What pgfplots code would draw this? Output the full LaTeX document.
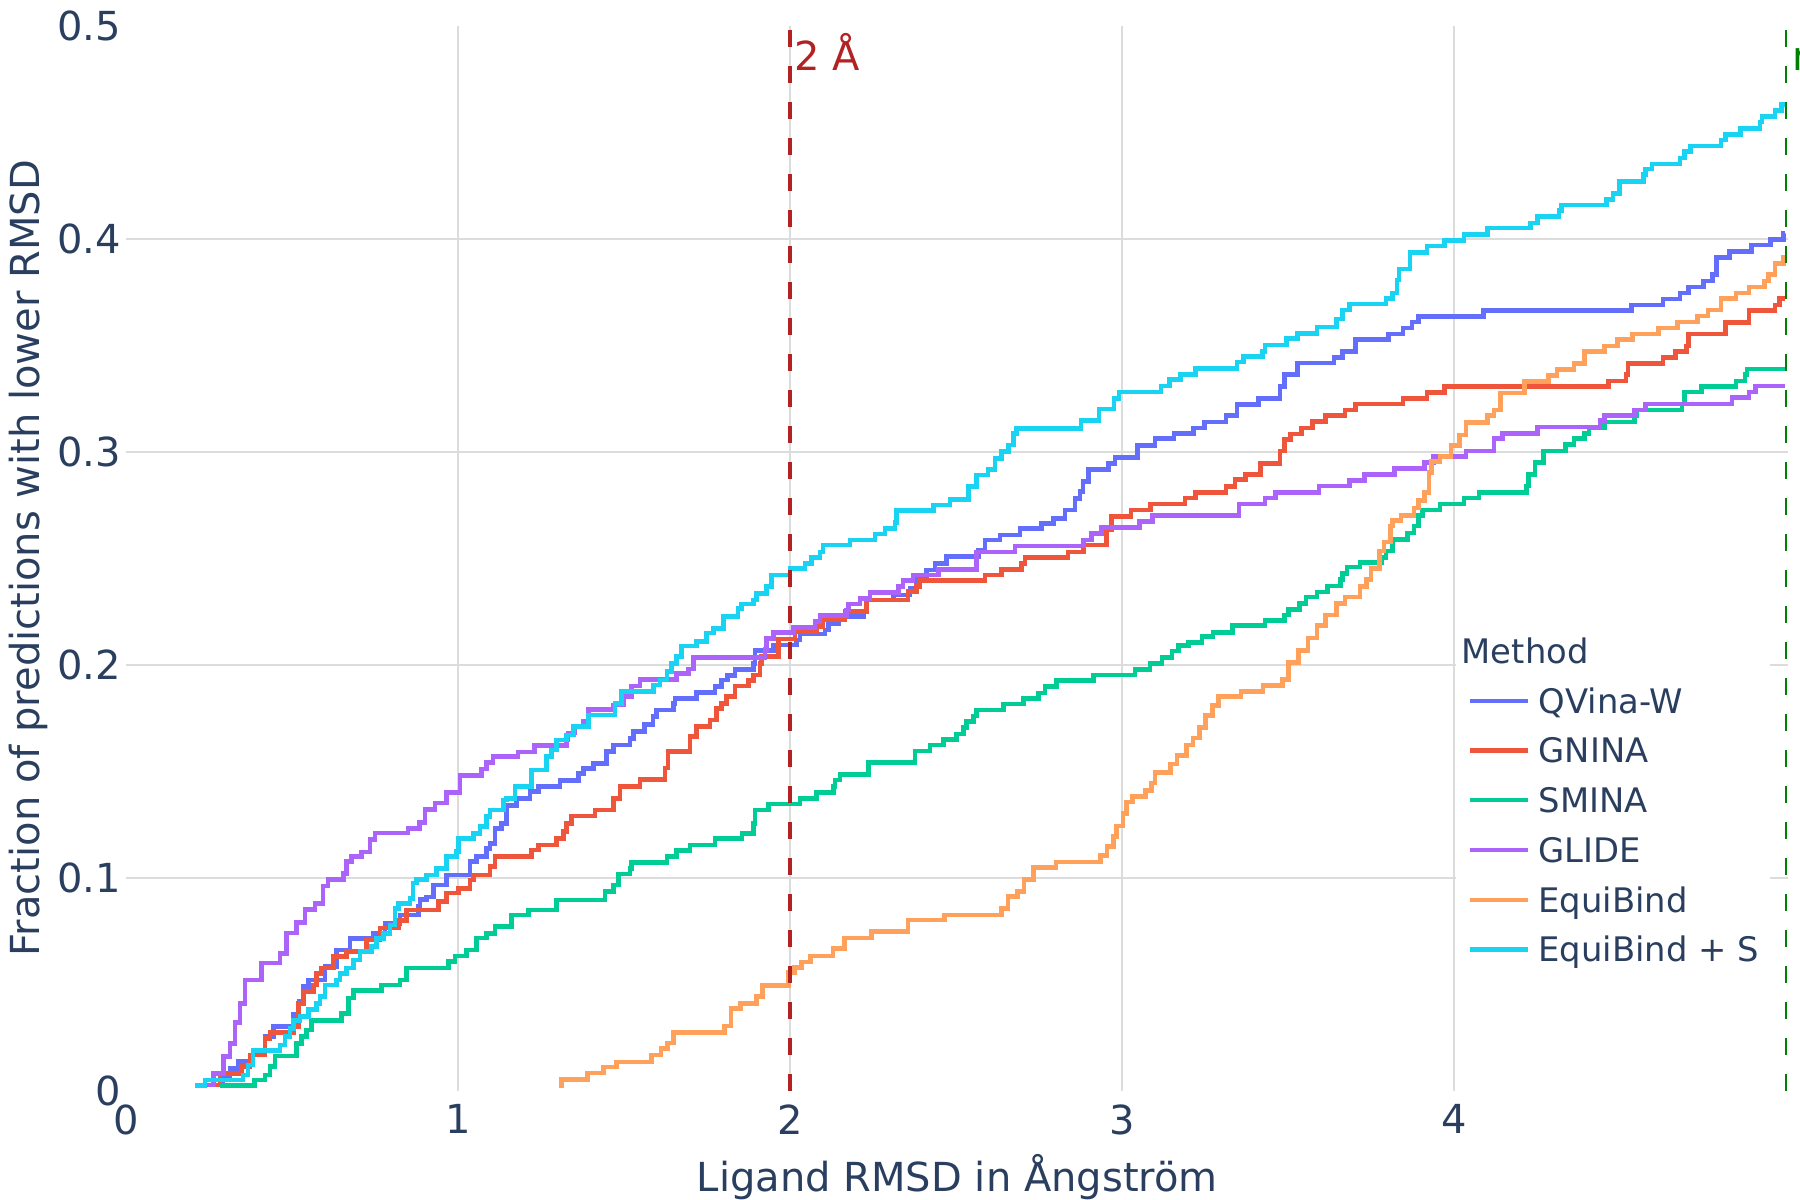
\documentclass[border=0pt]{standalone}
\usepackage{fontspec}
\setmainfont{DejaVu Sans}
\usepackage{pgfplots}
\pgfplotsset{compat=1.18}
\definecolor{txt}{HTML}{2A3F5F}
\definecolor{cQ}{HTML}{636EFA}
\definecolor{cG}{HTML}{EF553B}
\definecolor{cS}{HTML}{00CC96}
\definecolor{cL}{HTML}{AB63FA}
\definecolor{cE}{HTML}{FFA15A}
\definecolor{cES}{HTML}{19D3F3}
\definecolor{gridc}{HTML}{DCDCDC}
\definecolor{fb}{HTML}{B22222}
\definecolor{gr}{HTML}{008000}
\begin{document}
\begin{tikzpicture}
\begin{axis}[
  scale only axis,
  width=415.5pt, height=266.19pt,
  xmin=0, xmax=5.006, ymin=0, ymax=0.5,
  clip=false,
  axis line style={draw=none},
  major tick length=0pt,
  xtick={1,2,3,4}, extra x ticks={0},
  ytick={0.1,0.2,0.3,0.4}, extra y ticks={0,0.5},
  extra x tick style={grid=none}, extra y tick style={grid=none},
  grid=major,
  major grid style={draw=gridc, line width=0.5pt},
  /pgf/number format/assume math mode=true,
  tick label style={font=\fontsize{10}{12}\selectfont, text=txt},
  xticklabel style={anchor=north, inner sep=0pt, yshift=-3.35pt},
  yticklabel style={anchor=east, inner sep=0pt, xshift=-1.15pt,
     /pgf/number format/fixed, /pgf/number format/precision=1},
  legend style={
    at={(axis cs:4.006,0.21657)}, anchor=north west,
    draw=none, fill=white, inner xsep=2.75pt, inner ysep=2pt, outer sep=0pt,
    font=\fontsize{8.45}{10}\selectfont, text=txt,
    row sep=3.94pt, column sep=0pt,
    nodes={inner sep=0pt, text height=6.5pt, text depth=2pt, text=txt,
           font=\fontsize{8.45}{10}\selectfont},
    cells={anchor=base west},
  },
  legend image code/.code={\draw[#1, line width=1.1pt] (0pt,3.1pt) -- (14.6pt,3.1pt); \path (16.7pt,0pt);},
  every axis plot/.append style={line width=1.15pt, no marks, const plot},
]
\coordinate (SW) at (rel axis cs:0,0);
\coordinate (NE) at (rel axis cs:1,1);
\addlegendimage{empty legend}
\addlegendentry{\hspace*{-19.2pt}Method}

% QVina-W
\addplot[color=cQ] coordinates {
(0.252,0.0027) (0.29,0.006) (0.312,0.0105) (0.337,0.0136) (0.378,0.0168) (0.418,0.0254) (0.443,0.030) (0.503,0.0356) (0.52,0.042) (0.533,0.0489) (0.548,0.052) (0.599,0.0582) (0.633,0.066) (0.674,0.0715) (0.744,0.0739) (0.779,0.0786) (0.824,0.0825) (0.88,0.0864) (0.885,0.0896) (0.905,0.091) (0.925,0.0966) (0.965,0.1013) (1.035,0.1075) (1.055,0.11) (1.085,0.1138) (1.095,0.116) (1.11,0.123) (1.13,0.1255) (1.145,0.134) (1.176,0.1373) (1.216,0.1404) (1.241,0.1427) (1.306,0.1456) (1.362,0.149) (1.377,0.1513) (1.407,0.1537) (1.447,0.1592) (1.467,0.1623) (1.517,0.1654) (1.527,0.1686) (1.56,0.172) (1.587,0.1756) (1.597,0.1787) (1.648,0.1819) (1.653,0.1842) (1.718,0.1869) (1.773,0.1897) (1.793,0.1928) (1.81,0.195) (1.833,0.1978) (1.889,0.2007) (1.894,0.2066) (1.949,0.2093) (2.019,0.2116) (2.029,0.2144) (2.105,0.2163) (2.115,0.2194) (2.145,0.2225) (2.22,0.2249) (2.23,0.2304) (2.31,0.2327) (2.36,0.2358) (2.38,0.2405) (2.41,0.2445) (2.436,0.2476) (2.471,0.2507) (2.566,0.2538) (2.586,0.2585) (2.632,0.2609) (2.692,0.264) (2.757,0.2664) (2.792,0.2687) (2.827,0.2726) (2.857,0.2781) (2.872,0.2812) (2.882,0.2859) (2.898,0.2917) (2.958,0.2945) (2.978,0.2974) (3.046,0.3029) (3.098,0.3062) (3.156,0.3087) (3.215,0.3112) (3.247,0.314) (3.312,0.3171) (3.345,0.3221) (3.41,0.325) (3.475,0.3305) (3.488,0.3364) (3.527,0.3417) (3.638,0.3442) (3.664,0.3472) (3.703,0.3526) (3.801,0.3553) (3.846,0.3581) (3.872,0.361) (3.892,0.3636) (4.087,0.3662) (4.534,0.369) (4.628,0.3717) (4.68,0.3745) (4.706,0.3774) (4.751,0.3802) (4.777,0.3832) (4.79,0.3911) (4.829,0.3941) (4.895,0.397) (4.953,0.3997) (4.992,0.4025) (4.996,0.4025)
};
\addlegendentry{QVina-W}

% GNINA
\addplot[color=cG] coordinates {
(0.262,0.0027) (0.282,0.008) (0.347,0.0113) (0.372,0.0168) (0.418,0.0246) (0.433,0.0273) (0.503,0.03) (0.518,0.041) (0.533,0.0465) (0.563,0.0496) (0.573,0.0551) (0.588,0.0575) (0.624,0.063) (0.664,0.0653) (0.724,0.0708) (0.764,0.0763) (0.819,0.0799) (0.844,0.0849) (0.94,0.0888) (0.965,0.0927) (1.0,0.095) (1.035,0.0989) (1.045,0.1013) (1.095,0.1052) (1.11,0.11) (1.221,0.113) (1.241,0.1154) (1.296,0.1185) (1.316,0.1216) (1.326,0.1255) (1.341,0.129) (1.412,0.1318) (1.467,0.1373) (1.487,0.1428) (1.547,0.146) (1.622,0.1514) (1.632,0.1592) (1.698,0.1662) (1.718,0.1709) (1.758,0.174) (1.778,0.1795) (1.793,0.1819) (1.808,0.185) (1.833,0.19) (1.874,0.1925) (1.889,0.1952) (1.909,0.2006) (1.914,0.2038) (1.964,0.212) (2.014,0.2155) (2.079,0.2178) (2.099,0.221) (2.165,0.2249) (2.23,0.2304) (2.355,0.2343) (2.38,0.2366) (2.39,0.2395) (2.586,0.2421) (2.636,0.2448) (2.697,0.2476) (2.707,0.2504) (2.837,0.253) (2.883,0.2562) (2.953,0.2632) (2.968,0.2695) (3.026,0.2727) (3.085,0.2755) (3.189,0.2782) (3.221,0.281) (3.312,0.2836) (3.339,0.2869) (3.371,0.2894) (3.417,0.2945) (3.475,0.3003) (3.488,0.3057) (3.507,0.3084) (3.54,0.3112) (3.573,0.3141) (3.612,0.3171) (3.671,0.3196) (3.703,0.3224) (3.846,0.325) (3.918,0.3278) (3.97,0.3305) (4.465,0.3333) (4.517,0.3363) (4.523,0.3414) (4.628,0.3442) (4.667,0.3472) (4.699,0.3497) (4.706,0.3553) (4.816,0.3606) (4.888,0.3662) (4.966,0.369) (4.979,0.3721) (4.996,0.3721)
};
\addlegendentry{GNINA}

% SMINA
\addplot[color=cS] coordinates {
(0.282,0.0024) (0.387,0.005) (0.418,0.0074) (0.433,0.0113) (0.448,0.0163) (0.513,0.0222) (0.528,0.0254) (0.543,0.0285) (0.558,0.0329) (0.649,0.0363) (0.669,0.0434) (0.684,0.047) (0.769,0.0496) (0.824,0.052) (0.844,0.0575) (0.97,0.0606) (0.99,0.0633) (1.025,0.0661) (1.055,0.0716) (1.085,0.0739) (1.11,0.077) (1.161,0.0825) (1.211,0.0848) (1.296,0.0895) (1.442,0.0934) (1.467,0.0966) (1.482,0.1017) (1.517,0.1044) (1.522,0.1071) (1.628,0.1099) (1.658,0.1127) (1.698,0.1154) (1.773,0.1185) (1.854,0.1208) (1.889,0.1255) (1.894,0.1318) (1.934,0.1346) (2.029,0.1372) (2.079,0.1399) (2.13,0.1427) (2.135,0.1458) (2.15,0.1485) (2.235,0.154) (2.376,0.1595) (2.421,0.1623) (2.461,0.165) (2.501,0.1674) (2.521,0.1704) (2.531,0.1732) (2.551,0.1759) (2.561,0.1787) (2.642,0.1815) (2.702,0.1842) (2.747,0.1868) (2.767,0.1897) (2.802,0.1925) (2.913,0.1952) (3.038,0.1978) (3.083,0.2006) (3.12,0.2035) (3.15,0.2065) (3.17,0.209) (3.2,0.2105) (3.24,0.2132) (3.273,0.2152) (3.332,0.2183) (3.43,0.2208) (3.488,0.2233) (3.501,0.2258) (3.534,0.2286) (3.553,0.2317) (3.586,0.2342) (3.618,0.237) (3.658,0.24) (3.664,0.2429) (3.677,0.2459) (3.716,0.2481) (3.781,0.2504) (3.794,0.2534) (3.814,0.2588) (3.859,0.2618) (3.879,0.2652) (3.892,0.2702) (3.905,0.2727) (3.957,0.2755) (4.029,0.2782) (4.074,0.281) (4.217,0.2839) (4.224,0.2894) (4.243,0.295) (4.269,0.3003) (4.335,0.3034) (4.361,0.3062) (4.393,0.3087) (4.406,0.3112) (4.452,0.314) (4.543,0.3171) (4.549,0.3196) (4.686,0.3224) (4.693,0.328) (4.745,0.3305) (4.849,0.3333) (4.875,0.3363) (4.882,0.3389) (4.996,0.3389)
};
\addlegendentry{SMINA}

% GLIDE
\addplot[color=cL] coordinates {
(0.237,0.0027) (0.262,0.008) (0.292,0.016) (0.312,0.022) (0.327,0.032) (0.342,0.041) (0.357,0.052) (0.408,0.06) (0.463,0.0645) (0.483,0.074) (0.513,0.079) (0.538,0.085) (0.568,0.088) (0.593,0.096) (0.608,0.099) (0.654,0.102) (0.664,0.1075) (0.679,0.11) (0.709,0.112) (0.734,0.118) (0.749,0.121) (0.849,0.123) (0.884,0.126) (0.9,0.132) (0.93,0.135) (0.965,0.14) (1.005,0.148) (1.07,0.151) (1.085,0.154) (1.105,0.157) (1.18,0.159) (1.23,0.162) (1.326,0.165) (1.331,0.168) (1.351,0.171) (1.377,0.1733) (1.392,0.179) (1.467,0.181) (1.497,0.185) (1.522,0.19) (1.547,0.193) (1.658,0.196) (1.693,0.198) (1.708,0.2035) (1.924,0.207) (1.929,0.2124) (1.949,0.215) (2.009,0.2175) (2.074,0.2202) (2.089,0.223) (2.17,0.2257) (2.175,0.2285) (2.21,0.231) (2.24,0.2338) (2.326,0.2366) (2.34,0.2395) (2.37,0.2421) (2.446,0.2448) (2.561,0.253) (2.677,0.2557) (2.883,0.2585) (2.908,0.2617) (2.938,0.2643) (3.052,0.2672) (3.091,0.2702) (3.352,0.2755) (3.43,0.2782) (3.462,0.281) (3.592,0.2839) (3.684,0.2866) (3.729,0.2894) (3.82,0.292) (3.911,0.295) (3.938,0.2977) (4.035,0.3004) (4.12,0.3062) (4.146,0.3087) (4.25,0.3117) (4.439,0.3146) (4.452,0.317) (4.543,0.3196) (4.576,0.3224) (4.836,0.3255) (4.888,0.328) (4.908,0.3308) (4.996,0.3308)
};
\addlegendentry{GLIDE}

% EquiBind
\addplot[color=cE] coordinates {
(1.303,0.0021) (1.31,0.0053) (1.39,0.0082) (1.438,0.011) (1.476,0.0134) (1.582,0.0167) (1.61,0.0199) (1.63,0.0223) (1.649,0.0272) (1.802,0.0304) (1.821,0.0385) (1.85,0.0409) (1.898,0.0442) (1.917,0.0493) (1.994,0.0555) (2.013,0.0579) (2.033,0.0604) (2.061,0.0633) (2.129,0.0668) (2.163,0.0717) (2.244,0.0746) (2.355,0.0801) (2.464,0.0825) (2.637,0.0854) (2.656,0.0911) (2.685,0.0935) (2.704,0.0992) (2.733,0.1049) (2.8,0.1073) (2.935,0.1105) (2.954,0.1146) (2.973,0.1194) (2.983,0.1243) (3.002,0.13) (3.012,0.1356) (3.031,0.138) (3.069,0.1409) (3.088,0.1445) (3.098,0.1494) (3.146,0.1534) (3.165,0.1574) (3.194,0.1623) (3.213,0.1655) (3.232,0.1704) (3.251,0.1761) (3.271,0.1809) (3.29,0.185) (3.357,0.1874) (3.424,0.1901) (3.482,0.193) (3.501,0.2011) (3.53,0.2068) (3.559,0.2125) (3.586,0.2183) (3.612,0.2233) (3.645,0.2286) (3.671,0.2317) (3.716,0.2367) (3.736,0.24) (3.749,0.2451) (3.775,0.2534) (3.788,0.2576) (3.807,0.2652) (3.814,0.2677) (3.84,0.2702) (3.879,0.2735) (3.892,0.2772) (3.911,0.281) (3.924,0.2903) (3.931,0.2953) (3.957,0.2978) (3.99,0.3028) (4.016,0.3079) (4.035,0.3137) (4.1,0.3171) (4.12,0.3196) (4.139,0.3275) (4.211,0.333) (4.283,0.3358) (4.309,0.3385) (4.361,0.3414) (4.393,0.3472) (4.452,0.3497) (4.491,0.3526) (4.536,0.3553) (4.615,0.3581) (4.673,0.361) (4.732,0.3637) (4.764,0.3665) (4.803,0.372) (4.849,0.3745) (4.888,0.3774) (4.934,0.3802) (4.947,0.3832) (4.966,0.3883) (4.992,0.3913) (4.996,0.3913)
};
\addlegendentry{EquiBind}

% EquiBind + S
\addplot[color=cES] coordinates {
(0.207,0.0024) (0.237,0.005) (0.352,0.0074) (0.367,0.0121) (0.382,0.0188) (0.463,0.0215) (0.478,0.0254) (0.493,0.0293) (0.503,0.0329) (0.523,0.0348) (0.548,0.0382) (0.573,0.041) (0.583,0.0442) (0.598,0.0496) (0.634,0.052) (0.644,0.0551) (0.664,0.0575) (0.684,0.0614) (0.704,0.0653) (0.739,0.0676) (0.754,0.0715) (0.774,0.0739) (0.794,0.0778) (0.809,0.0856) (0.819,0.088) (0.854,0.0903) (0.864,0.0974) (0.874,0.099) (0.905,0.1013) (0.935,0.1044) (0.965,0.11) (0.995,0.1122) (1.0,0.1185) (1.045,0.1208) (1.065,0.124) (1.085,0.1287) (1.095,0.1318) (1.136,0.1365) (1.146,0.1373) (1.171,0.1428) (1.221,0.1506) (1.266,0.1568) (1.281,0.16) (1.296,0.1647) (1.326,0.167) (1.347,0.171) (1.392,0.1764) (1.472,0.1819) (1.492,0.1874) (1.588,0.1905) (1.608,0.1928) (1.628,0.1968) (1.643,0.2007) (1.658,0.2038) (1.673,0.2088) (1.718,0.2108) (1.748,0.2148) (1.768,0.2171) (1.798,0.2226) (1.843,0.2265) (1.853,0.2285) (1.889,0.2304) (1.899,0.2335) (1.929,0.2366) (1.944,0.2421) (1.999,0.2452) (2.044,0.2476) (2.064,0.2504) (2.089,0.253) (2.099,0.2562) (2.18,0.2585) (2.255,0.2614) (2.285,0.264) (2.315,0.2667) (2.32,0.2723) (2.431,0.275) (2.481,0.2776) (2.536,0.2836) (2.561,0.2891) (2.596,0.2917) (2.617,0.2969) (2.637,0.3) (2.657,0.3032) (2.672,0.3086) (2.682,0.311) (2.876,0.3147) (2.93,0.32) (2.975,0.325) (2.99,0.328) (3.117,0.3308) (3.143,0.3338) (3.176,0.3363) (3.221,0.3392) (3.345,0.3422) (3.365,0.3447) (3.423,0.3472) (3.43,0.3502) (3.495,0.3531) (3.527,0.3556) (3.586,0.3586) (3.645,0.3623) (3.664,0.3665) (3.684,0.3693) (3.794,0.372) (3.814,0.3745) (3.827,0.3807) (3.833,0.3858) (3.866,0.3936) (3.918,0.3966) (3.97,0.3992) (4.029,0.402) (4.1,0.405) (4.23,0.4075) (4.25,0.4106) (4.315,0.4134) (4.322,0.4159) (4.458,0.4184) (4.478,0.4213) (4.497,0.4268) (4.569,0.4302) (4.576,0.4327) (4.595,0.4352) (4.68,0.438) (4.693,0.441) (4.712,0.4436) (4.803,0.4464) (4.816,0.4491) (4.862,0.4519) (4.921,0.4548) (4.927,0.4575) (4.966,0.4603) (4.986,0.4631) (4.996,0.4631)
};
\addlegendentry{EquiBind + S}

% reference lines
\addplot[forget plot, sharp plot, color=fb, line width=1pt, dash pattern=on 4.2pt off 4.8pt, dash phase=8pt] coordinates {(2,0.5) (2,0)};
\addplot[forget plot, sharp plot, color=gr, line width=0.5pt, dash pattern=on 4.4pt off 4.6pt, dash phase=8pt] coordinates {(5,0.5) (5,0)};

\node[anchor=base west, inner sep=0pt, text=fb, font=\fontsize{10}{12}\selectfont] at ([xshift=0.87pt]axis cs:2,0.4788) {2 Å};
\node[anchor=base west, inner sep=0pt, text=gr, font=\fontsize{10}{12}\selectfont] at ([xshift=1.45pt]axis cs:5,0.4788) {n};

\node[rotate=90, anchor=base, inner sep=0pt, text=txt, font=\fontsize{10}{12}\selectfont] at ([xshift=-21.6pt]rel axis cs:0,0.5) {Fraction of predictions with lower RMSD};
\node[anchor=base, inner sep=0pt, text=txt, font=\fontsize{10}{12}\selectfont] at ([yshift=-25.1pt]rel axis cs:0.5,0) {Ligand RMSD in Ångström};
\end{axis}
\pgfresetboundingbox
\path[use as bounding box] ([shift={(-31.575pt,-27.35pt)}]SW) rectangle ([shift={(2.925pt,6.4625pt)}]NE);
\end{tikzpicture}
\end{document}
